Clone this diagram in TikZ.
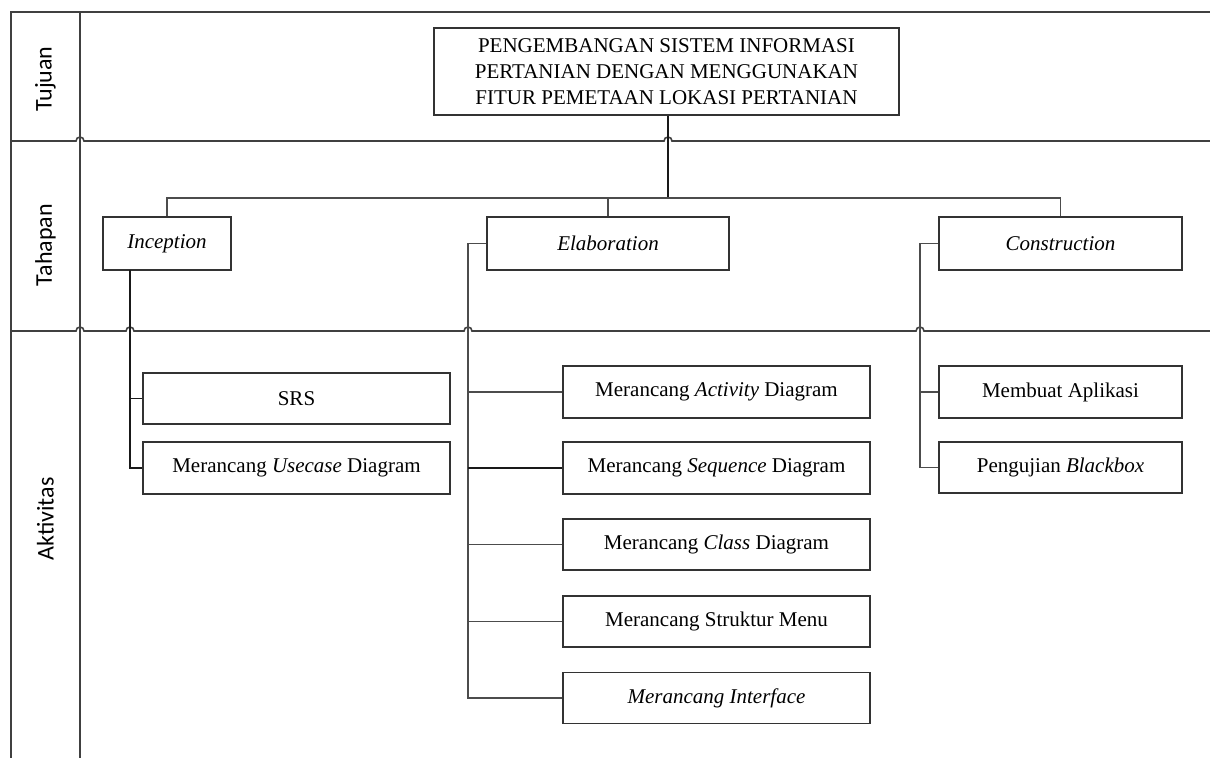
\documentclass[tikz,border=0pt]{standalone}
\usepackage{fontspec}
\setmainfont{Liberation Serif}
\newfontfamily\lblfont{Carlito}
\usetikzlibrary{calc}
\begin{document}
\begin{tikzpicture}[x=1pt,y=-1pt,
  frame/.style={draw=black!75,line width=1.6pt},
  box/.style={draw=black!80,line width=1.7pt,fill=white,inner sep=0pt,align=center,
    font=\fontsize{21}{26}\selectfont},
  conn/.style={draw=black!70,line width=1.6pt},
  dconn/.style={draw=black!90,line width=1.7pt},
  lbl/.style={rotate=90,font=\lblfont\fontsize{24}{28}\selectfont}]
\useasboundingbox[fill=white] (0,0) rectangle (1210,758);

% frame
\draw[frame] (1210,12) -- (11,12) -- (11,758);
\draw[frame] (80,12) -- (80,758);
\draw[frame] (11,141) -- (76,141) arc[start angle=180,end angle=0,radius=4pt] -- (664,141)
  arc[start angle=180,end angle=0,radius=4pt] -- (1210,141);
\draw[frame] (11,331) -- (76,331) arc[start angle=180,end angle=0,radius=4pt]
  -- (126,331) arc[start angle=180,end angle=0,radius=4pt]
  -- (464,331) arc[start angle=180,end angle=0,radius=4pt]
  -- (916,331) arc[start angle=180,end angle=0,radius=4pt] -- (1210,331);

% row labels
\node[lbl] (ltuj) at (45.5,79) {Tujuan};
\node[lbl] (ltah) at (45.5,245) {Tahapan};
\node[lbl] (lakt) at (45.5,519) {Aktivitas};

% nodes
\node[box,minimum width=465pt,minimum height=87pt] (title) at (666.5,71.5)
  {PENGEMBANGAN SISTEM INFORMASI\\PERTANIAN DENGAN MENGGUNAKAN\\FITUR PEMETAAN LOKASI PERTANIAN};
\node[box,minimum width=128pt,minimum height=53pt] (inc) at (167,243.5) {\textit{Inception}};
\node[box,minimum width=242pt,minimum height=53pt] (ela) at (608,243.5) {\textit{Elaboration}};
\node[box,minimum width=243pt,minimum height=53pt] (con) at (1060.5,243.5) {\textit{Construction}};

\node[box,minimum width=307pt,minimum height=51pt] (srs) at (296.5,398.5) {SRS};
\node[box,minimum width=307pt,minimum height=52pt] (uc) at (296.5,468) {Merancang \textit{Usecase} Diagram};

\node[box,minimum width=307pt,minimum height=52pt] (act) at (716.5,392) {Merancang \textit{Activity} Diagram};
\node[box,minimum width=307pt,minimum height=52pt] (seq) at (716.5,468) {Merancang \textit{Sequence} Diagram};
\node[box,minimum width=307pt,minimum height=51pt] (cls) at (716.5,544.5) {Merancang \textit{Class} Diagram};
\node[box,minimum width=307pt,minimum height=51pt] (mnu) at (716.5,621.5) {Merancang Struktur Menu};
\node[box,minimum width=307pt,minimum height=51pt] (itf) at (716.5,698) {\textit{Merancang Interface}};

\node[box,minimum width=243pt,minimum height=52pt] (app) at (1060.5,392) {Membuat Aplikasi};
\node[box,minimum width=243pt,minimum height=51pt] (bbx) at (1060.5,467.5) {Pengujian \textit{Blackbox}};

% connectors from title
\coordinate (hub) at (668,198);
\draw[dconn] (title.south -| hub) -- (hub);
\draw[conn] (inc.north) |- (hub) -| (con.north);
\draw[conn] (ela.north) -- (ela.north |- hub);

% inception
\coordinate (iv) at (130,270);
\draw[dconn] (iv) |- (uc.west);
\draw[dconn] (srs.west -| iv) -- (srs.west);

% elaboration
\coordinate (ev) at (468,243.5);
\draw[conn] (ela.west) -- (ev) |- (itf.west);
\draw[conn] (act.west -| ev) -- (act.west);
\draw[dconn] (seq.west -| ev) -- (seq.west);
\draw[conn] (cls.west -| ev) -- (cls.west);
\draw[conn] (mnu.west -| ev) -- (mnu.west);

% construction
\coordinate (cv) at (920,243.5);
\draw[conn] (con.west) -- (cv) |- (bbx.west);
\draw[conn] (app.west -| cv) -- (app.west);
\end{tikzpicture}
\end{document}
